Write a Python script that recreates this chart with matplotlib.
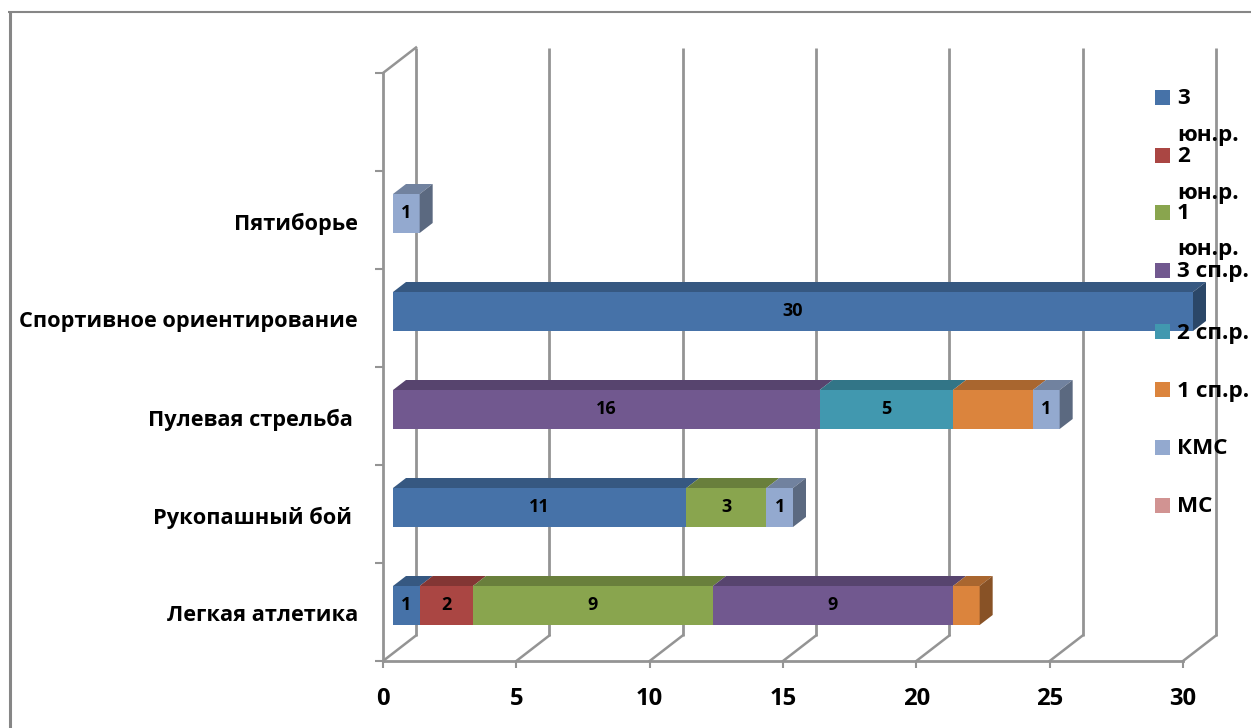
import matplotlib
matplotlib.use("Agg")
import matplotlib.pyplot as plt
from matplotlib.lines import Line2D
from matplotlib.patches import Rectangle
from matplotlib.transforms import IdentityTransform
import matplotlib.colors as mc

plt.rcParams['font.family'] = ['Open Sans', 'Noto Sans', 'DejaVu Sans']
plt.rcParams['font.weight'] = 'bold'

categories = ["Легкая атлетика", "Рукопашный бой ", "Пулевая стрельба ",
              "Спортивное ориентирование", "Пятиборье", ""]
series_names = ["3\nюн.р.", "2\nюн.р.", "1\nюн.р.", "3 сп.р.", "2 сп.р.", "1 сп.р.", "КМС", "МС"]
yun3 = [1, 11, 0, 30, 0, 0]
yun2 = [2, 0, 0, 0, 0, 0]
yun1 = [9, 3, 0, 0, 0, 0]
sp3 = [9, 0, 16, 0, 0, 0]
sp2 = [0, 0, 5, 0, 0, 0]
sp1 = [1, 0, 3, 0, 0, 0]
kms = [0, 1, 1, 0, 1, 0]
ms = [0, 0, 0, 0, 0, 0]
all_series = [yun3, yun2, yun1, sp3, sp2, sp1, kms, ms]
colors = ["#4672A8", "#AA4643", "#89A54E", "#71588F", "#4198AF", "#DB843D", "#93A9CF", "#D19392"]
labelled = [True, True, True, True, True, False, True, True]
x_ticks = [0, 5, 10, 15, 20, 25, 30]

W, H = 1251, 728
fig = plt.figure(figsize=(W / 100, H / 100), dpi=100, facecolor="white")
L, R, T, B = 383, 1183, 73, 661
ax = fig.add_axes([L / W, (H - B) / H, (R - L) / W, (B - T) / H])
ax.set_xlim(0, 30)
ax.set_ylim(0, 6)
ax.patch.set_alpha(0)

GRID = "#949494"
px_x = 30 / (R - L)
px_y = 6 / (B - T)
wall_dx, wall_dy = 33 * px_x, 25.5 * px_y
bar_off = 10 * px_x
bar_dx, bar_dy = 13 * px_x, 10 * px_y
bar_h = 39 * px_y
bar_shift = 6.5 * px_y


def shade(c, f):
    return tuple(v * f for v in mc.to_rgb(c))


# walls and gridlines
for x in x_ticks:
    ax.plot([x + wall_dx, x + wall_dx], [wall_dy, 6 + wall_dy], color=GRID, lw=2.0, zorder=1,
            clip_on=False, solid_capstyle="butt")
    ax.plot([x, x + wall_dx], [0, wall_dy], color=GRID, lw=1.8, zorder=1, clip_on=False)
ax.plot([0, wall_dx], [6, 6 + wall_dy], color=GRID, lw=1.8, zorder=1, clip_on=False)

# stacked 3-D bars
for i in range(len(categories)):
    left = 0
    yc = i + 0.5 + bar_shift
    y0 = yc - bar_h / 2
    y1 = yc + bar_h / 2
    last = None
    for vals, col, show in zip(all_series, colors, labelled):
        v = vals[i]
        if not v:
            continue
        x0 = left + bar_off
        x1 = x0 + v
        ax.barh(yc, v, left=x0, height=bar_h, color=col, linewidth=0, zorder=3, clip_on=False)
        ax.fill([x0, x0 + bar_dx, x1 + bar_dx, x1], [y1, y1 + bar_dy, y1 + bar_dy, y1],
                color=shade(col, 0.77), linewidth=0, zorder=3, clip_on=False)
        if show:
            ax.text((x0 + x1) / 2, yc, str(v), ha="center", va="center",
                    fontsize=13, fontweight="bold", color="black", zorder=5, clip_on=False)
        left += v
        last = (x1, col)
    if last:
        x1, col = last
        ax.fill([x1, x1 + bar_dx, x1 + bar_dx, x1], [y0, y0 + bar_dy, y1 + bar_dy, y1],
                color=shade(col, 0.62), linewidth=0, zorder=3, clip_on=False)

# axes
for s in ("top", "right"):
    ax.spines[s].set_visible(False)
for s in ("left", "bottom"):
    ax.spines[s].set_color(GRID)
    ax.spines[s].set_linewidth(2.0)
    ax.spines[s].set_zorder(2)
ax.set_xticks(x_ticks)
ax.set_xticklabels([str(t) for t in x_ticks], fontsize=17.2, fontweight="bold")
ax.tick_params(axis="x", length=5, width=1.5, color=GRID, pad=14)
ax.set_yticks(range(7))
ax.set_yticklabels([""] * 7)
ax.tick_params(axis="y", which="major", length=6, width=1.5, color=GRID)
ax.set_yticks([i + 0.5 - 1 * px_y for i in range(6)], minor=True)
ax.set_yticklabels(categories, minor=True, fontsize=15.7, fontweight="bold")
ax.tick_params(axis="y", which="minor", length=0, pad=18)

# legend (two-line names overflow a fixed row pitch, as in the source chart)
ident = IdentityTransform()
row_y = [97, 155, 212, 270, 331, 389, 447, 505]
line_pitch = 38
for name, col, y in zip(series_names, colors, row_y):
    fig.patches.append(Rectangle((1155, H - y - 7.5), 15, 15, transform=ident, facecolor=col,
                                 edgecolor="none", figure=fig, zorder=6))
    extra = line_pitch * name.count("\n") - 2 * name.count("\n")
    fig.text(1177 / W, (H - y - 7.5 - extra) / H, name, ha="left", va="baseline", fontsize=16.2,
             fontweight="bold", color="black", linespacing=1.98, zorder=7)

# outer frame: heavy left rule, thinner top rule, open on the other sides
fig.add_artist(Line2D([9.5, 9.5], [0, H - 11], transform=ident, color="#868686", lw=2.2,
                      solid_capstyle="butt"))
fig.add_artist(Line2D([8, W], [H - 12, H - 12], transform=ident, color="#868686", lw=1.5,
                      solid_capstyle="butt"))

fig.savefig("out.png", dpi=100)
